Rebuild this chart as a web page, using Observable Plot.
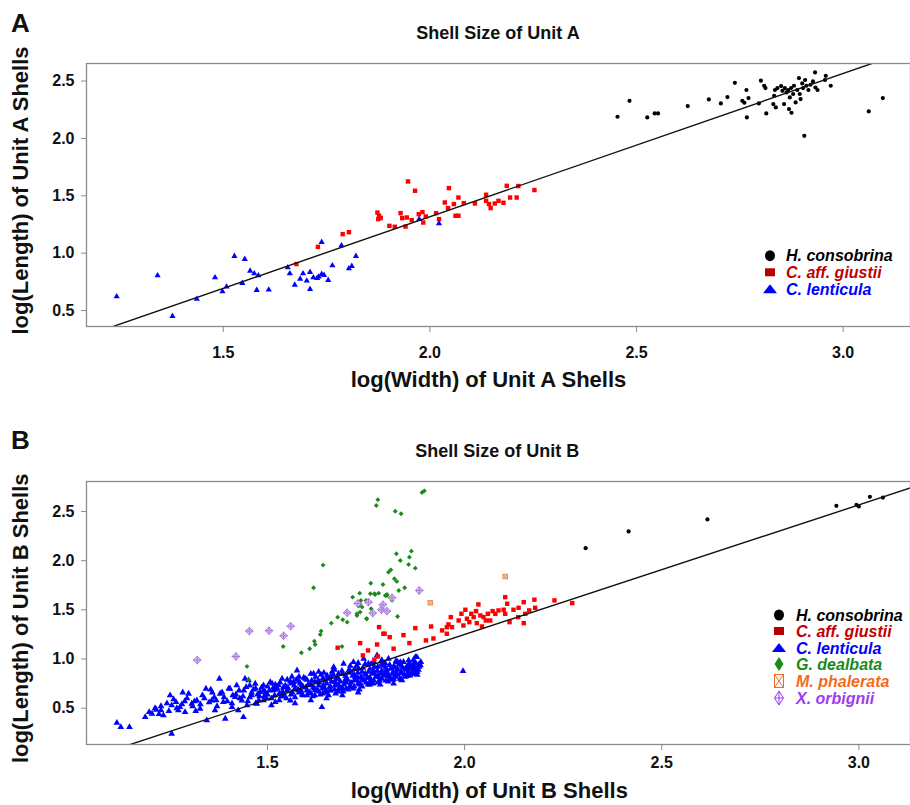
<!DOCTYPE html>
<html><head><meta charset="utf-8">
<script src="https://cdn.jsdelivr.net/npm/d3@7"></script>
<script src="https://cdn.jsdelivr.net/npm/@observablehq/plot@0.6"></script>
<style>
body{margin:0;background:#fff;}
#wrap{position:relative;width:910px;height:805px;overflow:hidden;}
#wrap svg{position:absolute;}
</style></head><body><div id="wrap"></div>
<script>
// ---------- Panel A data: [log(width), log(length)] ----------
const A_hcons = [[2.454,2.189],[2.483,2.328],[2.526,2.183],[2.544,2.218],[2.552,2.218],[2.624,2.282],[2.675,2.340],[2.704,2.305],[2.720,2.360],[2.738,2.485],[2.756,2.328],[2.761,2.311],[2.766,2.422],[2.767,2.183],[2.771,2.352],[2.796,2.305],[2.801,2.503],[2.809,2.459],[2.812,2.439],[2.814,2.218],[2.831,2.299],[2.833,2.372],[2.835,2.422],[2.837,2.270],[2.841,2.439],[2.850,2.456],[2.853,2.415],[2.857,2.299],[2.859,2.439],[2.863,2.401],[2.867,2.422],[2.869,2.256],[2.871,2.357],[2.874,2.439],[2.875,2.224],[2.879,2.387],[2.881,2.459],[2.885,2.314],[2.889,2.422],[2.893,2.526],[2.895,2.387],[2.897,2.343],[2.901,2.479],[2.903,2.439],[2.906,2.023],[2.908,2.509],[2.911,2.459],[2.916,2.422],[2.921,2.468],[2.927,2.497],[2.932,2.575],[2.933,2.444],[2.938,2.422],[2.956,2.509],[2.958,2.546],[2.970,2.459],[3.062,2.235],[3.096,2.352]];
const A_giust = [[1.677,0.905],[1.729,1.055],[1.789,1.166],[1.804,1.183],[1.873,1.354],[1.877,1.326],[1.875,1.297],[1.881,1.306],[1.902,1.238],[1.915,1.230],[1.929,1.349],[1.933,1.306],[1.941,1.232],[1.944,1.311],[1.947,1.625],[1.956,1.288],[1.964,1.544],[1.973,1.340],[1.982,1.358],[1.984,1.267],[1.990,1.320],[2.015,1.349],[2.022,1.297],[2.036,1.442],[2.046,1.567],[2.044,1.393],[2.058,1.428],[2.062,1.326],[2.069,1.485],[2.069,1.326],[2.082,1.436],[2.109,1.433],[2.136,1.509],[2.136,1.456],[2.143,1.428],[2.147,1.393],[2.157,1.433],[2.166,1.456],[2.178,1.439],[2.186,1.587],[2.194,1.485],[2.210,1.485],[2.214,1.585],[2.253,1.550]];
const A_lent = [[1.242,0.622],[1.341,0.805],[1.377,0.451],[1.436,0.600],[1.480,0.788],[1.498,0.666],[1.508,0.707],[1.527,0.974],[1.546,0.739],[1.552,0.948],[1.565,0.846],[1.575,0.823],[1.581,0.678],[1.585,0.805],[1.610,0.681],[1.656,0.875],[1.661,0.823],[1.673,0.724],[1.686,0.776],[1.693,0.823],[1.702,0.759],[1.710,0.835],[1.710,0.687],[1.718,0.788],[1.727,0.782],[1.731,0.794],[1.738,1.096],[1.738,0.817],[1.744,0.809],[1.754,0.765],[1.764,0.892],[1.786,1.067],[1.804,0.866],[1.811,0.887],[1.821,0.974],[1.974,1.297],[2.022,1.258]];
const fitA = [-1.178, 1.248];          // intercept, slope of fitted line
const ticksAx = [1.5, 2.0, 2.5, 3.0];
const ticksAy = [0.5, 1.0, 1.5, 2.0, 2.5];

// ---------- Panel B data ----------
const B_hcons = [[2.307,2.127],[2.416,2.297],[2.616,2.419],[2.943,2.558],[2.994,2.568],[3.000,2.551],[3.028,2.649],[3.061,2.642]];
const B_giust = [[1.678,1.115],[1.735,1.162],[1.755,1.087],[1.742,1.037],[1.778,1.148],[1.780,1.026],[1.783,1.324],[1.794,1.257],[1.810,1.223],[1.820,1.105],[1.845,1.243],[1.860,1.162],[1.875,1.314],[1.902,1.189],[1.915,1.331],[1.921,1.209],[1.943,1.291],[1.955,1.324],[1.959,1.352],[1.965,1.426],[1.968,1.324],[1.955,1.257],[1.797,1.257],[1.771,0.993],[1.985,1.392],[1.992,1.460],[1.997,1.341],[2.002,1.501],[2.006,1.410],[2.012,1.375],[2.017,1.460],[2.023,1.426],[2.029,1.487],[2.031,1.365],[2.035,1.555],[2.040,1.443],[2.044,1.331],[2.048,1.426],[2.054,1.392],[2.059,1.460],[2.065,1.392],[2.071,1.487],[2.078,1.460],[2.086,1.494],[2.099,1.501],[2.103,1.629],[2.108,1.562],[2.103,1.460],[2.114,1.375],[2.124,1.501],[2.136,1.426],[2.137,1.521],[2.150,1.578],[2.150,1.365],[2.154,1.460],[2.164,1.494],[2.177,1.603],[2.179,1.521],[2.228,1.596],[2.273,1.569]];
const B_lent = [[1.118,0.352],[1.128,0.308],[1.150,0.308],[1.257,0.241],[1.207,0.444],[1.218,0.485],[1.230,0.478],[1.236,0.427],[1.253,0.630],[1.257,0.529],[1.268,0.562],[1.278,0.511],[1.274,0.478],[1.300,0.647],[1.291,0.461],[1.308,0.546],[1.321,0.579],[1.329,0.495],[1.344,0.698],[1.346,0.376],[1.359,0.579],[1.367,0.478],[1.378,0.800],[1.380,0.647],[1.388,0.562],[1.393,0.393],[1.405,0.698],[1.410,0.511],[1.418,0.613],[1.422,0.732],[1.426,0.478],[1.435,0.579],[1.439,0.410],[1.446,0.715],[1.448,0.529],[1.460,0.630],[1.469,0.749],[1.473,0.546],[1.481,0.664],[1.490,0.732],[1.498,0.597],[1.507,0.766],[1.515,0.681],[1.520,0.562],[1.528,0.732],[1.537,0.800],[1.541,0.647],[1.549,0.715],[1.558,0.579],[1.566,0.766],[1.575,0.884],[1.579,0.681],[1.587,0.732],[1.596,0.800],[1.600,0.630],[1.608,0.732],[1.617,0.851],[1.621,0.681],[1.629,0.783],[1.638,0.511],[1.642,0.732],[1.651,0.833],[1.659,0.681],[1.668,0.918],[1.672,0.766],[1.680,0.851],[1.685,0.698],[1.693,0.952],[1.697,0.783],[1.706,0.884],[1.710,0.715],[1.718,0.969],[1.723,0.816],[1.731,0.901],[1.735,0.749],[1.744,1.003],[1.748,0.851],[1.756,0.952],[1.761,0.766],[1.769,0.884],[1.778,1.037],[1.782,0.816],[1.790,0.952],[1.799,0.867],[1.807,1.003],[1.811,0.800],[1.820,0.918],[1.828,0.851],[1.837,0.969],[1.841,0.783],[1.850,0.901],[1.858,0.986],[1.862,0.833],[1.871,0.952],[1.875,1.019],[1.888,0.935],[1.879,1.019],[1.996,0.877],[1.443,0.800],[1.452,0.783],
[1.46,0.66],[1.47,0.70],[1.48,0.62],[1.49,0.68],[1.50,0.72],[1.50,0.64],[1.51,0.60],[1.52,0.69],[1.52,0.74],[1.53,0.65],[1.54,0.71],[1.54,0.62],[1.55,0.68],[1.56,0.75],[1.56,0.64],[1.57,0.70],[1.58,0.66],[1.58,0.77],[1.59,0.72],[1.60,0.68],[1.60,0.79],[1.61,0.65],[1.61,0.74],[1.62,0.70],[1.62,0.77],[1.63,0.67],[1.63,0.73],[1.64,0.80],[1.64,0.70],[1.65,0.75],[1.65,0.66],[1.66,0.72],[1.66,0.82],[1.67,0.69],[1.67,0.77],[1.68,0.74],[1.68,0.80],[1.69,0.71],[1.69,0.85],[1.70,0.76],[1.70,0.81],[1.71,0.73],[1.71,0.88],[1.72,0.78],[1.72,0.84],[1.73,0.75],[1.73,0.81],[1.74,0.87],[1.74,0.79],[1.75,0.84],[1.75,0.76],[1.76,0.81],[1.76,0.90],[1.77,0.78],[1.77,0.86],[1.78,0.83],[1.78,0.92],[1.79,0.80],[1.79,0.88],[1.80,0.85],[1.80,0.91],[1.81,0.82],[1.81,0.94],[1.82,0.87],[1.82,0.80],[1.83,0.90],[1.83,0.84],[1.84,0.93],[1.84,0.86],[1.85,0.89],[1.85,0.82],[1.86,0.91],[1.86,0.96],[1.87,0.87],[1.87,0.93],[1.88,0.90],[1.885,0.95],[1.875,0.88],[1.885,0.92],
[1.42,0.64],[1.43,0.60],[1.44,0.68],[1.45,0.57],[1.41,0.55],[1.39,0.61],[1.37,0.58],[1.36,0.66],[1.34,0.60],[1.33,0.54],[1.31,0.52],[1.29,0.57],[1.27,0.50],[1.25,0.47],[1.23,0.52],[1.20,0.46],[1.19,0.41],
[1.53,0.58],[1.57,0.61],[1.59,0.63],[1.62,0.63],[1.64,0.65],[1.66,0.68],[1.68,0.67],[1.70,0.70],[1.72,0.72],[1.74,0.72],[1.76,0.74],[1.78,0.76],[1.80,0.78],[1.82,0.75],[1.84,0.79],[1.86,0.84],[1.88,0.84],[1.88,0.87],[1.55,0.79],[1.58,0.82],[1.61,0.85],[1.63,0.87],[1.67,0.89],[1.71,0.93],[1.73,0.96],[1.77,0.97],[1.79,0.99],[1.83,0.97],[1.87,0.99],[1.875,0.85],[1.69,0.63],[1.73,0.66],[1.65,0.60],[1.61,0.58],[1.57,0.55],[1.51,0.53],[1.47,0.55],[1.49,0.58],
[1.455,0.61],[1.465,0.69],[1.475,0.64],[1.485,0.71],[1.495,0.66],[1.455,0.73],[1.478,0.58],[1.492,0.62],
[1.505,0.68],[1.512,0.75],[1.518,0.63],[1.525,0.70],[1.532,0.76],[1.538,0.67],[1.545,0.73],[1.548,0.60],[1.515,0.71],[1.535,0.62],
[1.553,0.70],[1.558,0.77],[1.563,0.66],[1.568,0.73],[1.573,0.79],[1.577,0.69],[1.583,0.75],[1.588,0.64],[1.592,0.81],[1.597,0.71],[1.562,0.82],[1.585,0.68],
[1.603,0.74],[1.607,0.66],[1.612,0.78],[1.616,0.71],[1.622,0.82],[1.627,0.68],[1.631,0.76],[1.636,0.84],[1.641,0.72],[1.646,0.78],[1.648,0.68],[1.615,0.62],[1.634,0.64],[1.643,0.86],
[1.653,0.80],[1.657,0.71],[1.662,0.77],[1.667,0.84],[1.671,0.73],[1.676,0.80],[1.681,0.70],[1.685,0.77],[1.689,0.88],[1.694,0.74],[1.698,0.83],[1.655,0.63],[1.673,0.65],[1.692,0.67],[1.664,0.87],
[1.703,0.79],[1.707,0.86],[1.712,0.76],[1.716,0.83],[1.721,0.90],[1.725,0.79],[1.729,0.86],[1.734,0.74],[1.738,0.82],[1.742,0.91],[1.746,0.78],[1.705,0.69],[1.718,0.70],[1.733,0.69],[1.748,0.95],[1.727,0.93],
[1.753,0.81],[1.757,0.87],[1.762,0.79],[1.766,0.85],[1.771,0.92],[1.775,0.82],[1.779,0.88],[1.784,0.78],[1.788,0.85],[1.792,0.93],[1.796,0.83],[1.755,0.74],[1.768,0.75],[1.786,0.74],[1.798,0.96],[1.763,0.95],
[1.803,0.88],[1.807,0.83],[1.812,0.90],[1.816,0.85],[1.821,0.93],[1.825,0.82],[1.829,0.89],[1.834,0.95],[1.838,0.86],[1.843,0.91],[1.847,0.84],[1.806,0.77],[1.818,0.79],[1.836,0.80],[1.845,0.97],[1.826,0.98],
[1.853,0.92],[1.857,0.87],[1.862,0.94],[1.866,0.89],[1.871,0.91],[1.876,0.96],[1.881,0.93],[1.855,0.83],[1.868,0.85],[1.883,0.89],[1.889,0.97],
[1.215,0.50],[1.245,0.55],[1.262,0.59],[1.283,0.54],[1.296,0.60],[1.315,0.57],[1.335,0.63],[1.352,0.56],[1.365,0.61],[1.385,0.66],[1.398,0.57],[1.412,0.63],[1.428,0.68],[1.438,0.62],[1.402,0.70],[1.372,0.52],[1.318,0.47],[1.285,0.66],[1.225,0.44],[1.356,0.69]];
const B_deal = [[1.780,2.619],[1.776,2.561],[1.824,2.503],[1.839,2.477],[1.892,2.693],[1.898,2.710],[1.641,1.955],[1.827,2.070],[1.865,2.097],[1.860,2.036],[1.837,2.002],[1.858,1.961],[1.875,1.924],[1.807,1.883],[1.813,1.907],[1.822,1.816],[1.828,1.789],[1.617,1.725],[1.762,1.771],[1.793,1.758],[1.848,1.725],[1.833,1.697],[1.734,1.670],[1.799,1.646],[1.761,1.664],[1.773,1.656],[1.782,1.670],[1.803,1.656],[1.716,1.629],[1.737,1.596],[1.750,1.596],[1.763,1.511],[1.731,1.538],[1.727,1.460],[1.735,1.477],[1.752,1.410],[1.830,1.433],[1.678,1.426],[1.691,1.399],[1.702,1.375],[1.662,1.365],[1.636,1.284],[1.634,1.250],[1.619,1.182],[1.621,1.148],[1.607,1.105],[1.586,1.064],[1.540,1.128],[1.448,0.925],[1.452,0.790],[1.689,1.128],[1.771,1.664],[1.735,1.562],[1.740,1.528],[1.727,1.443],[1.751,1.409],[1.816,1.596],[1.803,1.646]];
const B_phal = [[1.913,1.572],[2.103,1.839]];
const B_orb = [[1.322,0.989],[1.420,1.026],[1.454,1.284],[1.504,1.288],[1.541,1.237],[1.559,1.334],[1.702,1.471],[1.729,1.565],[1.756,1.578],[1.767,1.467],[1.789,1.501],[1.793,1.552],[1.803,1.487],[1.816,1.623],[1.885,1.697]];
const fitB = [-1.387, 1.318];
const ticksBx = [1.5, 2.0, 2.5, 3.0];
const ticksBy = [0.5, 1.0, 1.5, 2.0, 2.5];

// Legend entries
const legendA = ["H. consobrina", "C. aff. giustii", "C. lenticula"];
const legendB = ["H. consobrina", "C. aff. giustii", "C. lenticula", "G. dealbata", "M. phalerata", "X. orbignii"];
const legendColors = {"H. consobrina":"#000000","C. aff. giustii":"#c00000","C. lenticula":"#0000ff","G. dealbata":"#1a8a1a","M. phalerata":"#f26b1d","X. orbignii":"#9a3cf0"};

// ---------- drawing ----------
const FONT = "'Liberation Sans', Arial, Helvetica, sans-serif";
const X = d => d[0], Y = d => d[1];
const fitLine = (fit, dom) => dom.map(x => ({x, y: fit[0] + fit[1]*x}));
const fmt = d3.format(".1f");

function panel({xDom, yDom, height, mt, mb, ticksX, ticksY, xPad, fit, marks}) {
  return Plot.plot({
    width: 910, height, marginTop: mt, marginBottom: mb, marginLeft: 86, marginRight: 0,
    x: {domain: xDom}, y: {domain: yDom},
    style: {fontFamily: FONT, fontSize: "16px", fontWeight: "bold", color: "#111", background: "transparent", overflow: "visible"},
    marks: [
      ...marks,
      Plot.line(fitLine(fit, xDom), {x: "x", y: "y", stroke: "#111", strokeWidth: 1.4, clip: true}),
      Plot.frame({stroke: "#8a8a8a", strokeWidth: 1.3}),
      Plot.axisX({ticks: ticksX, tickSize: 6, tickPadding: xPad, tickFormat: fmt, stroke: "#8a8a8a", label: null}),
      Plot.axisY({ticks: ticksY, tickSize: 5, tickPadding: 7, tickFormat: fmt, stroke: "#8a8a8a", label: null})
    ]
  });
}

const wrap = document.getElementById("wrap");

const pA = panel({
  xDom: [1.169, 3.163], yDom: [0.361, 2.653], height: 400, mt: 63, mb: 74,
  ticksX: ticksAx, ticksY: ticksAy, xPad: 14, fit: fitA,
  marks: [
    Plot.dot(A_hcons, {x: X, y: Y, r: 2.1, fill: "#000"}),
    Plot.dot(A_giust, {x: X, y: Y, symbol: "square", r: 2.5, fill: "#ff0000"}),
    Plot.dot(A_lent, {x: X, y: Y, symbol: "triangle", r: 2.3, fill: "#0000ff"})
  ]
});
pA.style.left = "0px"; pA.style.top = "0px";
wrap.appendChild(pA);

const pB = panel({
  xDom: [1.041, 3.131], yDom: [0.131, 2.805], height: 405, mt: 81, mb: 61,
  ticksX: ticksBx, ticksY: ticksBy, xPad: 6, fit: fitB,
  marks: [
    Plot.dot(B_lent, {x: X, y: Y, symbol: "triangle", r: 2.5, fill: "#0000ff"}),
    Plot.dot(B_deal, {x: X, y: Y, symbol: "diamond2", r: 2.2, fill: "#1a8a1a"}),
    Plot.dot(B_orb, {x: X, y: Y, symbol: "diamond2", r: 3.4, fill: "#dcc6f2", stroke: "#a77bdc", strokeWidth: 1}),
    Plot.dot(B_orb, {x: X, y: Y, symbol: "plus", r: 2.8, stroke: "#a77bdc", strokeWidth: 1}),
    Plot.dot(B_giust, {x: X, y: Y, symbol: "square", r: 2.5, fill: "#ff0000"}),
    Plot.dot(B_phal, {x: X, y: Y, symbol: "square", r: 2.6, fill: "#fbd9c6", stroke: "#e8804a", strokeWidth: 0.9}),
    Plot.dot(B_phal, {x: X, y: Y, symbol: "times", r: 2.2, stroke: "#e8804a", strokeWidth: 0.9}),
    Plot.dot(B_hcons, {x: X, y: Y, r: 2.1, fill: "#000"})
  ]
});
pB.style.left = "0px"; pB.style.top = "400px";
wrap.appendChild(pB);

// ---------- overlay: letters, titles, axis labels, legends ----------
const ov = d3.select(wrap).append("svg").attr("width", 910).attr("height", 805)
  .style("left", "0px").style("top", "0px").style("font-family", FONT).style("font-weight", "bold");

function txt(x, y, s, size, anchor = "start", rot = 0, fill = "#111", italic = false) {
  const t = ov.append("text").attr("x", x).attr("y", y).attr("font-size", size)
    .attr("text-anchor", anchor).attr("fill", fill).text(s);
  if (italic) t.attr("font-style", "italic");
  if (rot) t.attr("transform", `rotate(${rot},${x},${y})`);
  return t;
}
// Panel A
txt(11, 31.5, "A", 26);
txt(498, 39, "Shell Size of Unit A", 18, "middle");
txt(28.3, 190.5, "log(Length) of Unit A Shells", 22, "middle", -90);
txt(488.5, 387, "log(Width) of Unit A Shells", 22, "middle");
// Panel B
txt(11, 449, "B", 26);
txt(497.3, 457, "Shell Size of Unit B", 18, "middle");
txt(28.3, 618.3, "log(Length) of Unit B Shells", 22, "middle", -90);
txt(489.3, 797.5, "log(Width) of Unit B Shells", 22, "middle");

function legendSymbol(name, cx, cy) {
  const c = legendColors[name];
  if (name === "H. consobrina") ov.append("ellipse").attr("cx", cx).attr("cy", cy).attr("rx", 5).attr("ry", 5.5).attr("fill", c);
  else if (name === "C. aff. giustii") ov.append("rect").attr("x", cx - 5).attr("y", cy - 4).attr("width", 10).attr("height", 8).attr("fill", "#b80000");
  else if (name === "C. lenticula") ov.append("path").attr("d", `M${cx},${cy-5}L${cx+7},${cy+4}L${cx-7},${cy+4}Z`).attr("fill", c);
  else if (name === "G. dealbata") ov.append("path").attr("d", `M${cx},${cy-7}L${cx+4.5},${cy}L${cx},${cy+7}L${cx-4.5},${cy}Z`).attr("fill", c);
  else if (name === "M. phalerata") {
    ov.append("rect").attr("x", cx - 4.5).attr("y", cy - 6.5).attr("width", 9).attr("height", 13).attr("fill", "none").attr("stroke", c).attr("stroke-width", 1);
    ov.append("path").attr("d", `M${cx-4.5},${cy-6.5}L${cx+4.5},${cy+6.5}M${cx+4.5},${cy-6.5}L${cx-4.5},${cy+6.5}`).attr("stroke", c).attr("stroke-width", 1);
  } else {
    ov.append("path").attr("d", `M${cx},${cy-7}L${cx+4.5},${cy}L${cx},${cy+7}L${cx-4.5},${cy}Z M${cx},${cy-7}L${cx},${cy+7}M${cx-4.5},${cy}L${cx+4.5},${cy}`).attr("fill", "none").attr("stroke", c).attr("stroke-width", 1);
  }
}
const rowsA = [255.7, 272.3, 289.3];
legendA.forEach((n, i) => {
  legendSymbol(n, 770, rowsA[i]);
  txt(786, rowsA[i] + 5.5, n, 16, "start", 0, legendColors[n], true);
});
const rowsB = [615, 631, 648, 664, 681, 698];
legendB.forEach((n, i) => {
  legendSymbol(n, 779, rowsB[i]);
  txt(796, rowsB[i] + 5.5, n, 16, "start", 0, legendColors[n], true);
});
</script></body></html>
